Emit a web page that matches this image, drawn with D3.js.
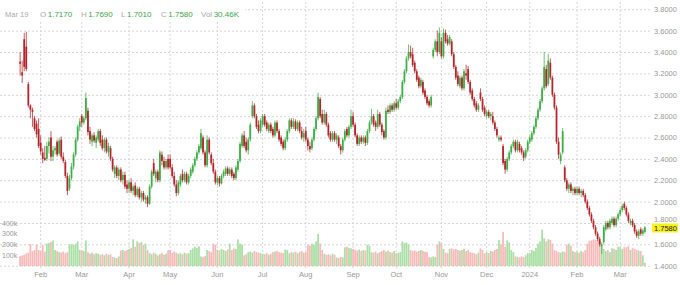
<!DOCTYPE html>
<html>
<head>
<meta charset="utf-8">
<script src="https://cdn.jsdelivr.net/npm/d3@7"></script>
<style>
body { margin: 0; background: #fff; }
svg { display: block; font-family: "Liberation Sans", Arial, sans-serif; }
</style>
</head>
<body>
<svg id="chart"></svg>
<script>
// daily candles: [open, high, low, close, volume in k]
const jan23 = [[3.31,3.40,3.18,3.29,92],[3.21,3.32,3.11,3.18,98],[3.52,3.58,3.22,3.26,105],[3.45,3.59,3.22,3.24,120],[3.10,3.12,2.88,2.90,125],
  [2.90,2.91,2.78,2.86,205],[2.86,2.88,2.70,2.84,140],[2.78,2.80,2.66,2.68,150],[2.73,2.76,2.60,2.63,200],[2.68,2.78,2.50,2.52,150]]
const feb23 = [[2.55,2.62,2.44,2.47,140],[2.46,2.50,2.36,2.40,195],[2.41,2.52,2.38,2.39,135],[2.40,2.56,2.38,2.52,210],[2.52,2.60,2.45,2.56,215],
  [2.60,2.66,2.38,2.42,225],[2.42,2.52,2.38,2.48,240],[2.48,2.52,2.44,2.50,150],[2.56,2.58,2.42,2.44,140],[2.45,2.60,2.43,2.57,130],
  [2.58,2.61,2.40,2.42,125],[2.42,2.46,2.36,2.38,135],[2.37,2.39,2.22,2.24,120],[2.24,2.27,2.06,2.10,130],[2.12,2.25,2.10,2.22,200],
  [2.22,2.36,2.20,2.33,205],[2.33,2.46,2.30,2.44,195],[2.44,2.60,2.42,2.58,210],[2.58,2.72,2.56,2.70,230],[2.70,2.78,2.66,2.75,150]]
const mar23 = [[2.80,2.82,2.70,2.74,150],[2.74,2.80,2.72,2.78,140],[2.78,3.02,2.76,2.97,240],[2.85,2.88,2.62,2.65,130],[2.66,2.70,2.54,2.58,115],
  [2.56,2.64,2.52,2.62,125],[2.62,2.65,2.55,2.57,110],[2.55,2.62,2.50,2.60,120],[2.58,2.68,2.56,2.66,115],[2.66,2.68,2.52,2.55,105],
  [2.58,2.62,2.48,2.50,110],[2.50,2.60,2.46,2.58,100],[2.58,2.60,2.45,2.47,115],[2.46,2.55,2.42,2.52,105],[2.50,2.52,2.38,2.40,110],
  [2.40,2.42,2.28,2.30,85],[2.26,2.34,2.22,2.32,80],[2.32,2.34,2.22,2.24,75],[2.24,2.32,2.20,2.30,90],[2.30,2.32,2.18,2.20,145],
  [2.20,2.28,2.16,2.25,150],[2.25,2.28,2.12,2.14,140],[2.16,2.20,2.08,2.12,150]]
const apr23 = [[2.12,2.20,2.08,2.18,160],[2.18,2.22,2.08,2.10,170],[2.10,2.16,2.06,2.14,250],[2.15,2.18,2.04,2.06,180],[2.06,2.14,2.04,2.12,230],
  [2.12,2.14,2.02,2.04,215],[2.04,2.10,2.00,2.08,225],[2.08,2.10,2.00,2.02,200],[2.02,2.06,1.98,2.04,210],[2.04,2.06,1.95,1.98,150],
  [1.98,2.16,1.97,2.14,120],[2.14,2.30,2.12,2.28,110],[2.36,2.40,2.24,2.26,125],[2.22,2.30,2.18,2.28,115],[2.28,2.30,2.18,2.20,100],
  [2.20,2.48,2.18,2.46,110],[2.44,2.47,2.34,2.38,120],[2.38,2.42,2.30,2.32,105],[2.32,2.40,2.30,2.38,115],[2.40,2.44,2.30,2.32,150]]
const may23 = [[2.40,2.44,2.30,2.32,150],[2.32,2.35,2.22,2.24,120],[2.24,2.28,2.14,2.16,135],[2.16,2.20,2.05,2.08,125],[2.08,2.20,2.06,2.18,115],
  [2.16,2.26,2.14,2.24,120],[2.26,2.30,2.18,2.20,110],[2.20,2.28,2.18,2.26,125],[2.26,2.28,2.16,2.18,115],[2.18,2.26,2.16,2.24,120],
  [2.24,2.32,2.22,2.30,150],[2.28,2.36,2.26,2.34,165],[2.34,2.42,2.32,2.40,180],[2.40,2.48,2.38,2.46,170],[2.46,2.54,2.44,2.52,185],
  [2.50,2.68,2.48,2.64,90],[2.60,2.62,2.44,2.46,85],[2.46,2.48,2.32,2.34,95],[2.34,2.62,2.32,2.58,150],[2.58,2.60,2.44,2.46,140],
  [2.44,2.46,2.34,2.36,130],[2.36,2.40,2.26,2.28,210],[2.28,2.30,2.16,2.18,200]]
const jun23 = [[2.18,2.24,2.15,2.22,150],[2.22,2.24,2.14,2.17,145],[2.17,2.26,2.16,2.24,160],[2.24,2.30,2.22,2.28,150],[2.26,2.33,2.24,2.31,140],
  [2.31,2.33,2.24,2.26,155],[2.26,2.32,2.24,2.30,210],[2.30,2.32,2.22,2.24,150],[2.26,2.28,2.20,2.22,165],[2.22,2.34,2.20,2.32,160],
  [2.30,2.40,2.28,2.38,250],[2.38,2.56,2.36,2.54,210],[2.52,2.64,2.50,2.62,200],[2.62,2.66,2.50,2.52,100],[2.56,2.60,2.46,2.48,110],
  [2.48,2.60,2.44,2.58,130],[2.58,2.74,2.56,2.72,135],[2.80,2.94,2.78,2.90,125],[2.90,2.92,2.78,2.80,140],[2.80,2.82,2.68,2.70,130],
  [2.72,2.76,2.64,2.66,125],[2.66,2.78,2.64,2.76,120]]
const jul23 = [[2.72,2.82,2.70,2.80,115],[2.80,2.82,2.70,2.72,110],[2.74,2.76,2.66,2.68,120],[2.66,2.74,2.64,2.72,105],[2.72,2.74,2.64,2.66,115],
  [2.68,2.70,2.60,2.62,130],[2.62,2.76,2.60,2.74,135],[2.74,2.76,2.64,2.66,140],[2.66,2.68,2.56,2.58,130],[2.60,2.62,2.52,2.54,125],
  [2.56,2.58,2.48,2.50,120],[2.50,2.60,2.48,2.58,155],[2.58,2.68,2.56,2.66,150],[2.66,2.78,2.64,2.76,120],[2.76,2.78,2.68,2.70,130],
  [2.70,2.78,2.68,2.75,125],[2.75,2.77,2.66,2.68,135],[2.68,2.76,2.66,2.74,120],[2.74,2.76,2.64,2.66,130],[2.66,2.70,2.58,2.60,140],
  [2.60,2.68,2.56,2.64,125]]
const aug23 = [[2.66,2.70,2.56,2.58,130],[2.58,2.60,2.48,2.52,200],[2.52,2.56,2.46,2.49,190],[2.50,2.60,2.48,2.58,210],[2.58,2.70,2.56,2.68,200],
  [2.68,2.80,2.66,2.78,230],[2.78,3.02,2.76,2.98,300],[2.96,2.98,2.78,2.80,210],[2.82,2.86,2.72,2.74,150],[2.74,2.86,2.72,2.82,115],
  [2.82,2.84,2.70,2.72,105],[2.72,2.74,2.60,2.62,110],[2.64,2.66,2.56,2.58,100],[2.58,2.66,2.56,2.64,115],[2.64,2.66,2.56,2.58,105],
  [2.58,2.64,2.54,2.62,80],[2.60,2.62,2.50,2.52,75],[2.52,2.54,2.44,2.48,85],[2.48,2.60,2.46,2.58,80],[2.58,2.68,2.56,2.66,175],
  [2.68,2.70,2.60,2.62,180],[2.62,2.72,2.60,2.70,170],[2.70,2.86,2.68,2.80,165]]
const sep23 = [[2.80,2.84,2.70,2.72,160],[2.72,2.74,2.60,2.62,150],[2.62,2.64,2.52,2.54,145],[2.54,2.62,2.52,2.60,155],[2.60,2.62,2.54,2.56,140],
  [2.56,2.62,2.54,2.60,150],[2.60,2.62,2.52,2.55,145],[2.55,2.68,2.53,2.66,200],[2.66,2.76,2.64,2.74,190],[2.74,2.87,2.72,2.80,130],
  [2.80,2.82,2.70,2.72,125],[2.74,2.76,2.66,2.70,135],[2.70,2.86,2.68,2.82,120],[2.82,2.84,2.70,2.72,130],[2.72,2.74,2.62,2.65,140],
  [2.66,2.68,2.58,2.60,150],[2.60,2.88,2.58,2.85,135],[2.86,2.90,2.82,2.84,145],[2.84,2.92,2.82,2.90,130],[2.90,2.92,2.84,2.86,125],
  [2.86,2.94,2.84,2.92,140]]
const oct23 = [[2.92,2.96,2.86,2.88,120],[2.88,2.96,2.86,2.94,125],[2.94,3.00,2.92,2.98,130],[2.98,3.14,2.96,3.12,230],[3.12,3.24,3.10,3.22,215],
  [3.22,3.36,3.20,3.34,220],[3.34,3.47,3.32,3.40,200],[3.40,3.46,3.34,3.36,150],[3.38,3.44,3.26,3.28,140],[3.30,3.32,3.20,3.22,145],
  [3.22,3.24,3.12,3.14,135],[3.16,3.18,3.06,3.08,140],[3.08,3.16,3.06,3.14,150],[3.12,3.14,3.00,3.02,140],[3.04,3.06,2.96,2.98,135],
  [2.98,3.00,2.90,2.92,130],[2.94,2.96,2.88,2.90,85],[2.90,3.00,2.88,2.98,80],[3.36,3.44,3.34,3.42,90],[3.42,3.52,3.40,3.50,85],
  [3.50,3.60,3.36,3.40,200],[3.40,3.63,3.38,3.58,230]]
const nov23 = [[3.50,3.54,3.34,3.36,215],[3.36,3.62,3.34,3.58,160],[3.58,3.61,3.48,3.50,125],[3.52,3.56,3.46,3.48,120],[3.48,3.56,3.46,3.54,160],
  [3.50,3.52,3.36,3.38,165],[3.38,3.40,3.24,3.26,155],[3.26,3.28,3.14,3.16,160],[3.18,3.22,3.08,3.10,150],[3.08,3.18,3.06,3.16,145],
  [3.16,3.18,3.04,3.06,150],[3.06,3.24,3.04,3.22,160],[3.20,3.28,3.14,3.18,140],[3.24,3.27,3.10,3.12,150],[3.12,3.14,3.00,3.02,130],
  [3.04,3.06,2.94,2.96,125],[2.96,2.98,2.88,2.90,120],[2.92,2.94,2.84,2.86,110],[2.86,2.92,2.84,2.90,125],[3.02,3.06,2.94,2.96,165],
  [2.96,2.98,2.84,2.86,150],[2.88,2.90,2.80,2.82,120]]
const dec23 = [[2.80,2.86,2.78,2.84,130],[2.84,2.86,2.78,2.80,120],[2.80,2.84,2.76,2.82,140],[2.80,2.84,2.72,2.74,135],[2.74,2.76,2.66,2.68,150],
  [2.68,2.70,2.60,2.62,160],[2.58,2.62,2.56,2.60,245],[2.60,2.62,2.56,2.58,200],[2.52,2.54,2.34,2.36,320],[2.38,2.40,2.26,2.30,180],
  [2.30,2.42,2.28,2.40,240],[2.40,2.48,2.38,2.46,220],[2.46,2.54,2.44,2.52,150],[2.52,2.58,2.50,2.56,130],[2.56,2.58,2.46,2.48,90],
  [2.48,2.58,2.46,2.56,85],[2.54,2.56,2.46,2.48,80],[2.50,2.52,2.44,2.46,90],[2.46,2.48,2.38,2.41,85],[2.42,2.50,2.40,2.48,100],
  [2.48,2.58,2.46,2.56,120]]
const jan24 = [[2.56,2.62,2.54,2.60,120],[2.58,2.66,2.56,2.64,150],[2.64,2.72,2.62,2.70,140],[2.70,2.80,2.68,2.78,170],[2.78,2.88,2.76,2.86,210],
  [2.86,2.96,2.84,2.94,230],[2.94,3.08,2.92,3.06,340],[3.06,3.40,3.04,3.26,260],[3.24,3.28,3.06,3.08,230],[3.10,3.38,3.08,3.32,250],
  [3.30,3.34,3.14,3.16,245],[3.16,3.18,2.98,3.00,210],[3.00,3.02,2.86,2.88,150],[2.88,2.90,2.54,2.56,140],[2.56,2.60,2.40,2.44,130],
  [2.38,2.46,2.35,2.44,125],[2.46,2.69,2.44,2.66,135],[2.32,2.34,2.18,2.20,130],[2.20,2.22,2.10,2.12,200],[2.12,2.18,2.08,2.16,210],
  [2.16,2.18,2.08,2.10,190],[2.10,2.14,2.06,2.12,140],[2.12,2.14,2.06,2.08,130]]
const feb24 = [[2.08,2.14,2.06,2.12,135],[2.12,2.14,2.06,2.08,125],[2.08,2.12,2.04,2.10,140],[2.10,2.12,2.04,2.06,130],[2.06,2.08,1.98,2.00,150],
  [2.00,2.02,1.92,1.94,210],[1.94,1.96,1.86,1.88,235],[1.88,1.90,1.80,1.82,240],[1.82,1.84,1.74,1.76,250],[1.76,1.78,1.68,1.70,245],
  [1.70,1.72,1.63,1.65,240],[1.65,1.67,1.58,1.60,230],[1.58,1.62,1.51,1.60,180],[1.62,1.78,1.60,1.76,160],[1.74,1.82,1.72,1.80,140],
  [1.80,1.82,1.74,1.76,150],[1.76,1.84,1.74,1.82,130],[1.80,1.86,1.78,1.84,165],[1.84,1.86,1.76,1.78,160],[1.78,1.86,1.76,1.84,150],
  [1.84,1.90,1.82,1.88,180]]
const mar24 = [[1.88,1.94,1.86,1.92,175],[1.92,1.98,1.90,1.96,160],[1.98,2.00,1.92,1.94,180],[1.94,1.96,1.86,1.88,175],[1.88,1.90,1.80,1.82,185],
  [1.80,1.84,1.78,1.82,150],[1.82,1.84,1.76,1.78,170],[1.78,1.80,1.70,1.72,160],[1.72,1.74,1.66,1.68,150],[1.68,1.74,1.65,1.72,145],
  [1.74,1.76,1.68,1.70,140],[1.70,1.75,1.68,1.73,100],[1.717,1.769,1.701,1.758,30.46]]

const priceTicks = [1.4, 1.6, 1.8, 2.0, 2.2, 2.4, 2.6, 2.8, 3.0, 3.2, 3.4, 3.6, 3.8]
const volumeTicks = [100, 200, 300, 400]
const monthLabels = ['Feb', 'Mar', 'Apr', 'May', 'Jun', 'Jul', 'Aug', 'Sep', 'Oct', 'Nov', 'Dec', '2024', 'Feb', 'Mar']

const width = 680
const height = 285
const upColor = '#3cae46'
const downColor = '#b3252b'
const gridColor = '#d6d6d6'
const labelColor = '#999'

const svg = d3.select('#chart').attr('width', width).attr('height', height)

// trading days = weekdays from the first candle to the last one
const days = d3.timeDay.range(new Date(2023, 0, 18), new Date(2024, 2, 20))
    .filter(d => d.getDay() !== 0 && d.getDay() !== 6)

const candles = [].concat(jan23, feb23, mar23, apr23, may23, jun23, jul23, aug23,
    sep23, oct23, nov23, dec23, jan24, feb24, mar24)
    .map((d, i) => ({date: days[i], open: d[0], high: d[1], low: d[2], close: d[3], volume: d[4]}))

const xScale = d3.scaleBand()
    .domain(d3.range(candles.length))
    .range([19.1, 645.9])
const yScale = d3.scaleLinear().domain([1.4, 3.8]).range([265.7, 9.3])
const vScale = d3.scaleLinear().domain([0, 400]).range([266, 223.3])
const step = xScale.bandwidth()
const cx = i => xScale(i) + step / 2

// first trading day of each month gets a tick
const monthStarts = candles
    .map((d, i) => i)
    .filter(i => i > 0 && candles[i].date.getMonth() !== candles[i - 1].date.getMonth())

// vertical grid + month labels
const xAxis = d3.axisBottom(xScale)
    .tickValues(monthStarts)
    .tickSize(-268)
    .tickPadding(4)
    .tickFormat((d, i) => monthLabels[i])
const gx = svg.append('g')
    .attr('transform', 'translate(0,268)')
    .call(xAxis)
gx.select('.domain').remove()
gx.selectAll('line').attr('stroke', gridColor).attr('stroke-dasharray', '2,2')
gx.selectAll('text').attr('fill', labelColor).attr('font-size', 7.5)

// horizontal grid + price labels (the one under the last-price marker is left out)
const lastClose = jan23.length && mar24[mar24.length - 1][3]
const yAxis = d3.axisRight(yScale)
    .tickValues(priceTicks)
    .tickSize(-650)
    .tickPadding(4)
    .tickFormat(d3.format('.4f'))
const gy = svg.append('g')
    .attr('transform', 'translate(650,0)')
    .call(yAxis)
gy.select('.domain').remove()
gy.selectAll('line').attr('stroke', gridColor).attr('stroke-dasharray', '2,2')
gy.selectAll('text').attr('fill', labelColor).attr('font-size', 7.5)
    .attr('dy', d => Math.abs(yScale(d) - yScale(lastClose)) < 9 ? '-0.15em' : '0.32em')

// volume
svg.append('g')
    .selectAll('rect')
    .data(candles)
    .enter()
    .append('rect')
    .attr('x', (d, i) => xScale(i) + 0.15)
    .attr('width', step - 0.3)
    .attr('y', d => vScale(d.volume))
    .attr('height', d => vScale(0) - vScale(d.volume))
    .attr('fill', d => d.close >= d.open ? '#a9dfa4' : '#f8b9b9')

svg.append('g')
    .selectAll('text')
    .data(volumeTicks)
    .enter()
    .append('text')
    .attr('x', 2)
    .attr('y', d => vScale(d))
    .attr('dy', '0.35em')
    .attr('fill', labelColor)
    .attr('font-size', 7)
    .text(d => d + 'k')

// candles
const candle = svg.append('g')
    .selectAll('g')
    .data(candles)
    .enter()
    .append('g')
    .attr('fill', d => d.close >= d.open ? upColor : downColor)
    .attr('stroke', d => d.close >= d.open ? upColor : downColor)

candle.append('line')
    .attr('x1', (d, i) => cx(i))
    .attr('x2', (d, i) => cx(i))
    .attr('y1', d => yScale(d.high))
    .attr('y2', d => yScale(d.low))
    .attr('stroke-width', 1)
    .attr('stroke-opacity', 0.75)

candle.append('rect')
    .attr('x', (d, i) => cx(i) - step * 0.43)
    .attr('width', step * 0.86)
    .attr('y', d => yScale(Math.max(d.open, d.close)))
    .attr('height', d => Math.max(0.9, Math.abs(yScale(d.open) - yScale(d.close))))
    .attr('stroke', 'none')

// last price marker
const last = candles[candles.length - 1]
svg.append('rect')
    .attr('x', 652)
    .attr('y', yScale(last.close) - 4)
    .attr('width', 26)
    .attr('height', 9)
    .attr('fill', '#f7f21b')
svg.append('text')
    .attr('x', 654)
    .attr('y', yScale(last.close) + 0.5)
    .attr('dy', '0.35em')
    .attr('font-size', 7.5)
    .attr('fill', '#222')
    .text(d3.format('.4f')(last.close))

// header
svg.append('rect').attr('x', 0).attr('y', 0).attr('width', 245).attr('height', 21).attr('fill', '#fff')
svg.append('text')
    .attr('x', 5)
    .attr('y', 17)
    .attr('font-size', 7.5)
    .attr('fill', '#aaa')
    .text(d3.timeFormat('%b %d')(last.date))

const fmt = d3.format('.4f')
const headerItems = [
    ['O', fmt(last.open)],
    ['H', fmt(last.high)],
    ['L', fmt(last.low)],
    ['C', fmt(last.close)],
    ['Vol', d3.format('.2f')(last.volume) + 'K']
]
const headerX = [40, 81, 121, 161, 201]
headerItems.forEach((item, i) => {
    const t = svg.append('text')
        .attr('x', headerX[i])
        .attr('y', 17)
        .attr('font-size', 8)
    t.append('tspan').attr('fill', '#aaa').text(item[0])
    t.append('tspan').attr('fill', '#37a64a').attr('dx', 1.5).text(item[1])
})
</script>
</body>
</html>
